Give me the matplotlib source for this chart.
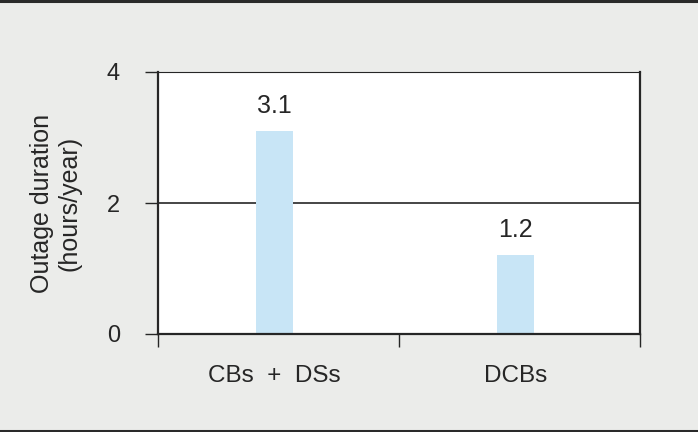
import matplotlib.pyplot as plt
from matplotlib.lines import Line2D

categories = ["CBs  +  DSs", "DCBs"]
durations = [3.1, 1.2]
bar_labels = ["3.1", "1.2"]
y_ticks = [0, 2, 4]

plt.rcParams["font.family"] = ["Liberation Sans", "DejaVu Sans"]

bg = "#ebecea"
ink = "#262626"

fig = plt.figure(figsize=(6.98, 4.32), dpi=100, facecolor=bg)
ax = fig.add_axes([158 / 698, 1 - 334 / 432, 482 / 698, 262 / 432])

pos = [0.483 + i for i in range(len(categories))]
ax.bar(pos, durations, width=0.154, color="#c8e5f6", zorder=2)
for x, v, lab in zip(pos, durations, bar_labels):
    ax.text(x, v + 0.2, lab, ha="center", va="bottom", fontsize=18, color=ink)

ax.set_xlim(0, 2)
ax.set_ylim(0, 4)
ax.set_yticks(y_ticks)
ax.set_yticklabels([str(t) for t in y_ticks], fontsize=17, color=ink)
ax.set_xticks([0, 1, 2])
ax.set_xticklabels([])
ax.set_xticks(pos, minor=True)
ax.set_xticklabels(categories, minor=True, fontsize=17.5, color=ink)
ax.tick_params(axis="x", which="minor", length=0, pad=22)
ax.tick_params(axis="x", which="major", length=9.5, width=1, color=ink)
ax.tick_params(axis="y", length=9.5, width=1, color=ink, pad=18)
ax.axhline(2, color=ink, lw=1.2, zorder=1)

for side in ["left", "bottom", "right"]:
    ax.spines[side].set_linewidth(1.6)
    ax.spines[side].set_color(ink)
ax.spines["top"].set_linewidth(0.8)
ax.spines["top"].set_color(ink)

ax.set_ylabel("Outage duration\n(hours/year)", fontsize=18, color=ink, labelpad=18)

fig.add_artist(Line2D([0, 1], [0.997, 0.997], color="#2a2a2a", lw=2.2))
fig.add_artist(Line2D([0, 1], [0.003, 0.003], color="#2a2a2a", lw=2.2))

fig.savefig("out.png", dpi=100, facecolor=bg)
